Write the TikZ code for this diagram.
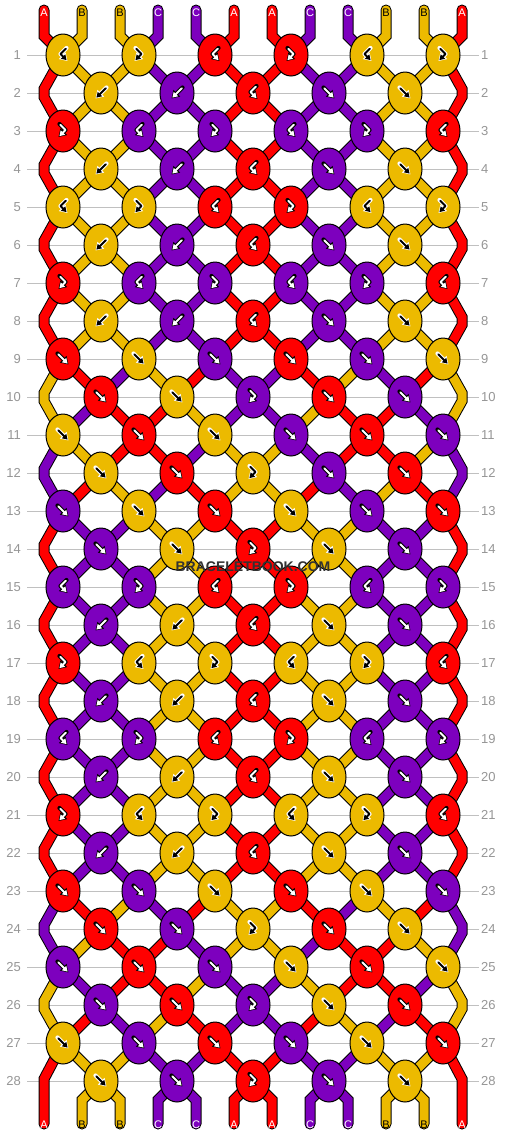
\documentclass[tikz,border=0pt]{standalone}
\usepackage{fontspec}
\setmainfont{Liberation Sans}
\usetikzlibrary{shapes.geometric,arrows.meta,backgrounds}

\definecolor{colA}{RGB}{255,0,0}
\definecolor{colB}{RGB}{236,186,0}
\definecolor{colC}{RGB}{125,0,190}
\colorlet{fgA}{white}\colorlet{bgA}{black}
\colorlet{fgB}{black}\colorlet{bgB}{white}
\colorlet{fgC}{white}\colorlet{bgC}{black}
\definecolor{rowgray}{RGB}{192,192,192}
\definecolor{numgray}{RGB}{150,150,150}
\definecolor{wmgray}{RGB}{50,50,50}

% arrow glyphs inside the knots
\def\kgf{(-5.5,5.5) -- (5.5,-5.5)}
\def\kgb{(5.5,5.5) -- (-5.5,-5.5)}
\def\kgfb{(-3.5,7) -- (2.5,1) -- (-4.5,-6)}
\def\kgbf{(3.5,7) -- (-2.5,1) -- (4.5,-6)}

\tikzset{
  knot/.style={ellipse, draw=black, line width=1pt, fill=col#1,
    minimum width=34pt, minimum height=42pt, inner sep=0pt},
  strand/.style={draw=black, line width=1pt, double=col#1, double distance=9pt},
  glyph back/.style={draw=bg#1, line width=4.2pt, line join=round, line cap=round,
    -{Triangle[length=7.5pt,width=9pt]}},
  glyph fore/.style={draw=fg#1, line width=2pt, line join=round, line cap=round,
    shorten >=1.3pt, shorten <=1pt, -{Triangle[length=5pt,width=6pt]}},
  rowline/.style={draw=rowgray, line width=1pt},
  rownum/.style={text=numgray, font=\fontsize{13}{13}\selectfont, inner sep=0pt},
  endlabel/.style={text=fg#1, font=\fontsize{11}{11}\selectfont, inner sep=0pt},
}

\begin{document}
\begin{tikzpicture}[x=1pt,y=1pt]
\useasboundingbox (0,0) rectangle (506,-1136);

% row numbers
\foreach \rw in {1,...,28} {
  \pgfmathsetmacro\ky{-55-38*(\rw-1)}
  \node[rownum, anchor=east] (nl\rw) at (21,\ky) {\rw};
  \node[rownum, anchor=west] (nr\rw) at (481,\ky) {\rw};
}

% knots, colour/type per row
\foreach \rw/\ks in {
  1/{B/bf,B/fb,A/bf,A/fb,B/bf,B/fb},
  2/{B/b,C/b,A/bf,C/f,B/f},
  3/{A/fb,C/bf,C/fb,C/bf,C/fb,A/bf},
  4/{B/b,C/b,A/bf,C/f,B/f},
  5/{B/bf,B/fb,A/bf,A/fb,B/bf,B/fb},
  6/{B/b,C/b,A/bf,C/f,B/f},
  7/{A/fb,C/bf,C/fb,C/bf,C/fb,A/bf},
  8/{B/b,C/b,A/bf,C/f,B/f},
  9/{A/f,B/f,C/f,A/f,C/f,B/f},
  10/{A/f,B/f,C/fb,A/f,C/f},
  11/{B/f,A/f,B/f,C/f,A/f,C/f},
  12/{B/f,A/f,B/fb,C/f,A/f},
  13/{C/f,B/f,A/f,B/f,C/f,A/f},
  14/{C/f,B/f,A/fb,B/f,C/f},
  15/{C/bf,C/fb,A/bf,A/fb,C/bf,C/fb},
  16/{C/b,B/b,A/bf,B/f,C/f},
  17/{A/fb,B/bf,B/fb,B/bf,B/fb,A/bf},
  18/{C/b,B/b,A/bf,B/f,C/f},
  19/{C/bf,C/fb,A/bf,A/fb,C/bf,C/fb},
  20/{C/b,B/b,A/bf,B/f,C/f},
  21/{A/fb,B/bf,B/fb,B/bf,B/fb,A/bf},
  22/{C/b,B/b,A/bf,B/f,C/f},
  23/{A/f,C/f,B/f,A/f,B/f,C/f},
  24/{A/f,C/f,B/fb,A/f,B/f},
  25/{C/f,A/f,C/f,B/f,A/f,B/f},
  26/{C/f,A/f,C/fb,B/f,A/f},
  27/{B/f,C/f,A/f,C/f,B/f,A/f},
  28/{B/f,C/f,A/fb,C/f,B/f}} {
  \foreach \kc/\kt [count=\ki from 0] in \ks {
    \pgfmathsetmacro\kx{63+38*(1-mod(\rw,2))+76*\ki}
    \pgfmathsetmacro\ky{-55-38*(\rw-1)}
    \node[knot=\kc] (k\rw-\ki) at (\kx,\ky) {};
    \expandafter\let\expandafter\kgpath\csname kg\kt\endcsname
    \draw[glyph back=\kc, shift={(\kx,\ky)}] \kgpath;
    \draw[glyph fore=\kc, shift={(\kx,\ky)}] \kgpath;
  }
}

% thread letters top and bottom
\foreach \strc [count=\pos from 0] in {A,B,B,C,C,A,A,C,C,B,B,A} {
  \pgfmathsetmacro\sx{44+38*\pos}
  \node[endlabel=\strc] (tl\pos) at (\sx,-13) {\strc};
  \node[endlabel=\strc] (bl\pos) at (\sx,-1124.5) {\strc};
}

\begin{scope}[on background layer]
\fill[white] (0,0) rectangle (506,-1136);
\foreach \rw in {1,...,28}
  \draw[rowline] ([xshift=6pt]nl\rw.east) -- ([xshift=-2pt]nr\rw.west);

% threads entering row 1
\foreach \strc [count=\pos from 0] in {A,B,B,C,C,A,A,C,C,B,B,A} {
  \pgfmathsetmacro\sx{44+38*\pos}
  \pgfmathtruncatemacro\ki{\pos/2}
  \coordinate (top\pos) at (\sx,-10);
  \coordinate (tbend\pos) at (\sx,-36);
  \draw[strand=\strc, line cap=round] (top\pos) -- (tbend\pos) -- (k1-\ki.center);
}

% threads between rows
\foreach \rw/\st in {
  1/{A,B,B,C,C,A,A,C,C,B,B,A},
  2/{A,B,B,C,C,A,A,C,C,B,B,A},
  3/{A,B,B,C,C,A,A,C,C,B,B,A},
  4/{A,B,B,C,C,A,A,C,C,B,B,A},
  5/{A,B,B,C,C,A,A,C,C,B,B,A},
  6/{A,B,B,C,C,A,A,C,C,B,B,A},
  7/{A,B,B,C,C,A,A,C,C,B,B,A},
  8/{A,B,B,C,C,A,A,C,C,B,B,A},
  9/{B,A,C,B,A,C,C,A,B,C,A,B},
  10/{B,C,A,A,B,C,C,B,A,A,C,B},
  11/{C,B,A,A,C,B,B,C,A,A,B,C},
  12/{C,A,B,C,A,B,B,A,C,B,A,C},
  13/{A,C,C,B,B,A,A,B,B,C,C,A},
  14/{A,C,C,B,B,A,A,B,B,C,C,A},
  15/{A,C,C,B,B,A,A,B,B,C,C,A},
  16/{A,C,C,B,B,A,A,B,B,C,C,A},
  17/{A,C,C,B,B,A,A,B,B,C,C,A},
  18/{A,C,C,B,B,A,A,B,B,C,C,A},
  19/{A,C,C,B,B,A,A,B,B,C,C,A},
  20/{A,C,C,B,B,A,A,B,B,C,C,A},
  21/{A,C,C,B,B,A,A,B,B,C,C,A},
  22/{A,C,C,B,B,A,A,B,B,C,C,A},
  23/{C,A,B,C,A,B,B,A,C,B,A,C},
  24/{C,B,A,A,C,B,B,C,A,A,B,C},
  25/{B,C,A,A,B,C,C,B,A,A,C,B},
  26/{B,A,C,B,A,C,C,A,B,C,A,B},
  27/{A,B,B,C,C,A,A,C,C,B,B,A}} {
  \pgfmathtruncatemacro\rn{\rw+1}
  \foreach \strc [count=\pos from 0] in \st {
    \ifnum\pos>0 \ifnum\pos<11
      \ifodd\rw
        \pgfmathtruncatemacro\ia{\pos/2}
        \pgfmathtruncatemacro\ib{(\pos-1)/2}
      \else
        \pgfmathtruncatemacro\ia{(\pos-1)/2}
        \pgfmathtruncatemacro\ib{\pos/2}
      \fi
      \draw[strand=\strc] (k\rw-\ia.center) -- (k\rn-\ib.center);
    \fi\fi
  }
}

% edge threads
\foreach \rw/\cl/\cr in {1/A/A,3/A/A,5/A/A,7/A/A,9/B/B,11/C/C,13/A/A,
    15/A/A,17/A/A,19/A/A,21/A/A,23/C/C,25/B/B} {
  \pgfmathtruncatemacro\rr{\rw+2}
  \pgfmathsetmacro\ey{-55-38*\rw}
  \draw[strand=\cl] (k\rw-0.center) -- (44,\ey+4) -- (44,\ey-4) -- (k\rr-0.center);
  \draw[strand=\cr] (k\rw-5.center) -- (462,\ey+4) -- (462,\ey-4) -- (k\rr-5.center);
}

% threads leaving the last rows
\coordinate (bot0) at (44,-1124);
\coordinate (bot11) at (462,-1124);
\draw[strand=A, line cap=round] (k27-0.center) -- (44,-1079) -- (bot0);
\draw[strand=A, line cap=round] (k27-5.center) -- (462,-1079) -- (bot11);
\foreach \strc [count=\pos from 1] in {B,B,C,C,A,A,C,C,B,B} {
  \pgfmathsetmacro\sx{44+38*\pos}
  \pgfmathtruncatemacro\ki{(\pos-1)/2}
  \coordinate (bot\pos) at (\sx,-1124);
  \draw[strand=\strc, line cap=round] (k28-\ki.center) -- (\sx,-1100) -- (bot\pos);
}
\end{scope}

\node[text=wmgray, font=\fontsize{14}{14}\selectfont\bfseries] (wm) at (253,-567) {BRACELETBOOK.COM};
\end{tikzpicture}
\end{document}
